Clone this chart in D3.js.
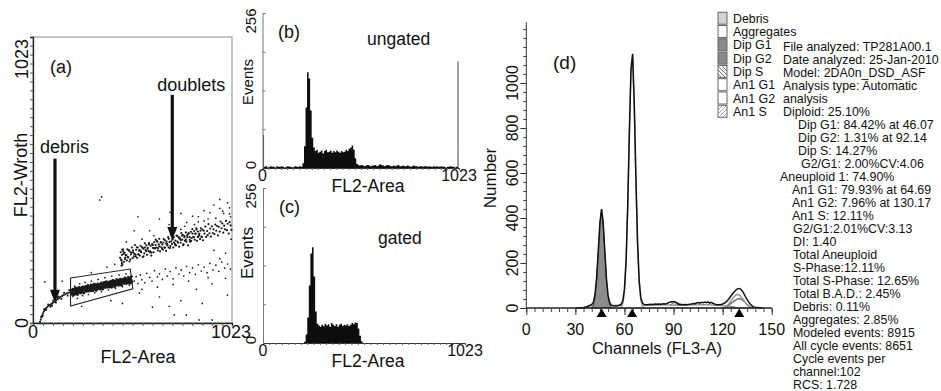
<!DOCTYPE html>
<html>
<head>
<meta charset="utf-8">
<script src="https://cdn.jsdelivr.net/npm/d3@7"></script>
<style>
  body { margin: 0; background: #fff; }
  svg text { font-family: "Liberation Sans", Arial, sans-serif; fill: #111; }
</style>
</head>
<body>
<svg id="fig" width="941" height="391"></svg>
<script>
// ---------- panel (a): FL2-Area vs FL2-Wroth dot plot (channel units 0-1023) ----------
const debrisTrail = [[36,4],[40,12],[44,20],[48,28],[52,35],[56,41],[60,46],[65,51],[70,55],[76,59],[82,62],[88,65],
  [94,68],[100,71],[107,74],[114,78],[121,82],[128,86],[135,89],[142,93],[150,97],[158,100],[166,103],[174,106],
  [182,108],[190,110],[42,22],[50,26],[58,50],[68,47],[78,66],[90,58],[104,80],[118,73],[132,95],[146,86],
  [160,108],[178,98],[186,118],[98,62],[126,92]];
const gatedCore = [[198,107],[200,117],[202,102],[204,113],[206,121],[208,105],[210,116],[212,101],[214,120],
  [216,112],[218,125],[220,106],[222,118],[224,110],[226,123],[228,102],[230,116],[232,121],[234,107],[236,118],
  [238,127],[240,111],[242,114],[244,124],[246,122],[248,107],[250,117],[252,126],[254,114],[256,129],[258,112],
  [260,122],[262,107],[264,125],[266,118],[268,129],[270,115],[272,122],[274,131],[276,113],[278,125],[280,121],
  [282,134],[284,116],[286,125],[288,114],[290,130],[292,120],[294,121],[296,131],[298,115],[300,127],[302,135],
  [304,119],[306,129],[308,115],[310,134],[312,125],[314,139],[316,120],[318,132],[320,123],[322,137],[324,116],
  [326,129],[328,135],[330,121],[332,132],[334,140],[336,125],[338,128],[340,137],[342,136],[344,121],[346,131],
  [348,139],[350,128],[352,143],[354,125],[356,136],[358,121],[360,139],[362,131],[364,143],[366,129],[368,135],
  [370,145],[372,127],[374,139],[376,134],[378,148],[380,130],[382,138],[384,128],[386,144],[388,134],[390,134],
  [392,145],[394,129],[396,140],[398,149],[400,133],[402,143],[404,128],[406,148],[408,139],[410,152],[412,134],
  [414,146],[416,137],[418,150],[420,130],[422,143],[424,148],[426,135],[428,146],[430,154],[432,138],[434,142],
  [436,151],[438,149],[440,135],[442,145],[444,153],[446,141],[448,157],[450,139],[452,149],[454,135],[456,153],
  [458,145],[460,156],[462,143],[464,149],[466,158],[468,141],[470,153],[472,148],[474,161],[476,144],[478,152],
  [480,141],[482,158],[484,148],[486,148],[488,158],[490,143],[492,154],[494,162],[496,147],[498,157],[500,142],
  [502,161],[504,153],[506,166],[508,147]];
const gateFringe = [[205,95],[214,132],[228,88],[240,140],[255,98],[268,145],[285,102],[300,150],[318,108],[335,156],
  [352,112],[370,162],[388,118],[405,168],[424,124],[442,172],[460,130],[478,176],[495,135],[232,128],[296,138],
  [364,146],[430,158],[488,166]];
const lowerTrail = [[520,150],[530,166],[540,141],[552,172],[560,155],[575,144],[585,178],[600,163],[612,150],
  [625,187],[640,165],[650,176],[665,156],[680,193],[690,168],[705,184],[720,158],[735,197],[750,175],[762,190],
  [775,168],[790,203],[805,180],[820,197],[835,174],[850,208],[865,186],[880,200],[895,180],[910,213],[925,190],
  [940,207],[955,185],[970,218],[985,196],[1000,211],[1015,193],[560,120],[640,128],[720,138],[800,150],[900,162]];
const doublets = [[448,233],[451,253],[456,223],[458,244],[462,263],[468,219],[471,251],[475,234],[477,243],
  [482,224],[485,263],[489,234],[493,259],[496,220],[501,254],[503,245],[508,270],[512,232],[515,253],[519,238],
  [524,279],[527,245],[530,262],[535,233],[538,270],[542,245],[545,258],[549,241],[553,276],[556,253],[561,270],
  [564,236],[567,266],[572,249],[575,285],[579,261],[583,278],[586,244],[590,269],[594,257],[597,286],[602,253],
  [605,276],[608,241],[613,282],[616,269],[620,253],[623,289],[628,267],[631,298],[634,270],[639,291],[642,260],
  [646,281],[649,301],[653,256],[657,288],[660,271],[665,281],[668,262],[672,300],[676,271],[679,296],[684,258],
  [687,291],[690,282],[695,307],[698,270],[702,290],[706,275],[709,316],[714,283],[717,299],[721,270],[724,307],
  [729,283],[732,295],[736,278],[740,313],[743,291],[748,308],[751,273],[755,304],[759,287],[762,322],[767,298],
  [770,315],[774,282],[778,307],[781,294],[786,324],[789,291],[793,314],[797,278],[800,319],[805,307],[808,291],
  [812,326],[816,304],[819,336],[824,308],[828,329],[831,298],[836,319],[840,339],[843,294],[848,327],[851,309],
  [855,319],[859,300],[863,339],[866,309],[871,334],[874,296],[878,330],[882,320],[886,345],[890,308],[895,329],
  [898,314],[902,354],[907,321],[911,338],[915,309],[919,346],[924,322],[928,335],[933,318],[937,352],[942,330],
  [946,347],[951,313],[955,344],[960,327],[964,363],[969,339],[973,356],[978,323],[983,348],[987,335],[992,365],
  [997,332],[1001,355],[1006,320],[1011,361],[1016,349],[1020,333],
  [466,247],[473,229],[480,243],[487,237],[494,260],[500,227],[507,251],[514,260],[521,247],[528,238],[534,271],
  [541,246],[548,262],[555,256],[562,271],[568,238],[575,270],[582,257],[589,266],[596,281],[602,256],[609,252],
  [616,279],[623,267],[630,279],[636,293],[643,268],[650,274],[657,289],[664,266],[670,288],[677,269],[684,284],
  [691,278],[698,301],[704,268],[711,292],[718,301],[725,288],[732,278],[738,312],[745,287],[752,302],[759,297],
  [766,312],[772,278],[779,311],[786,298],[793,307],[800,322],[806,297],[813,293],[820,320],[827,307],[834,320],
  [840,334],[847,308],[854,315],[861,330],[868,307],
  [455,205],[457,214],[453,226],[460,210],[464,256],[459,262]];
const strayDots = [[343,440],[353,451],[61,147],[788,29],[921,11],[854,11],[726,29],[547,107],[650,93],[614,57],
  [600,330],[650,372],[700,352],[760,392],[820,382],[880,402],[930,422],[980,392],[1010,412],[960,442],[900,372],
  [850,362],[780,346],[705,396],[622,312],[560,300],[520,330],[480,290],[700,60],[760,80],[840,120],[920,140],
  [990,160],[1015,380],[1018,300],[990,250],[960,230],[930,260],[420,210],[380,200],[300,180],[150,150],[250,60],
  [400,80],[460,70],[870,70],[1000,100],[110,140],[540,380],[720,340],[790,360],[850,380],[910,395],[960,410],
  [1000,430],[940,375],[880,365],[830,352],[760,335],[1010,390],[975,400]];
const gateVertices = [[193,161],[500,193],[513,122],[193,61]];
const scatterNotes = [
  { label: "debris",   textX: 36,  textY: 608, arrowX: 113, arrowFrom: 588, arrowTo: 72 },
  { label: "doublets", textX: 639, textY: 830, arrowX: 716, arrowFrom: 816, arrowTo: 297 }
];

// ---------- panels (b), (c): FL2-Area histograms, 128 bins of 8 channels ----------
const ungatedCounts = [55,
  2,3,1,2,3,2,2,1,3,2,2,3,2,1,2,3,2,2,1,2,3,2,2,3,2,
  8,36,100,158,148,95,50,34,
  28,30,25,27,29,24,28,30,26,27,29,25,28,26,29,27,25,28,26,27,30,28,32,34,37,30,
  16,7,5,
  4,5,4,3,4,5,4,3,4,4,5,3,4,6,5,4,3,4,5,4,3,3,4,3,4,5,3,3,4,3,3,4,3,2,3,4,3,3,2,3,
  3,2,3,3,2,3,2,2,3,2,3,2,2,3,2,2,1,2,2,3,2,2,1,2,
  176];
const gatedCounts = [0,0,0,0,0,0,0,0,0,0,0,0,0,0,0,0,0,0,0,0,0,0,0,0,0,0,
  2,14,42,95,148,158,110,52,
  32,29,27,30,28,32,29,31,27,33,30,28,31,27,30,32,28,30,29,31,28,30,33,31,34,33,
  24,12,3,
  0,0,0,0,0,0,0,0,0,0,0,0,0,0,0,0,0,0,0,0,0,0,0,0,0,0,0,0,0,0,0,0,0,0,0,0,0,0,0,0,
  0,0,0,0,0,0,0,0,0,0,0,0,0,0,0,0,0,0,0,0,0,0,0,0,0];

// ---------- panel (d): ModFit cell-cycle histogram (FL3-A channels) ----------
const totalStart = 30;
const totalCounts = [0,0,0,1,1,2,4,6,9,12,
  16,25,60,135,255,380,440,380,252,130,
  55,24,13,10,9,9,10,12,17,32,
  85,212,458,785,1065,1130,905,580,295,122,
  45,22,16,15,15,16,17,16,17,18,
  17,18,17,18,19,18,20,24,27,28,
  28,27,22,17,16,16,15,16,15,16,
  17,18,20,19,22,24,21,25,23,26,
  24,27,22,25,21,18,16,15,15,16,
  18,21,26,33,42,52,62,71,79,85,
  87,84,76,64,50,37,26,17,10,5,
  3,2,1,0,0,0];
const debrisStart = 33;
const debrisCounts = [1,2,3,5,7,9,11,10,8,6,4,2,1];
const dipG1Start = 40;
const dipG1Counts = [3,13,47,124,247,374,436,374,247,124,47,13,3,0];
const sPhaseStart = 48;
const sPhaseCounts = [3,6,8,10,11,12,12,13,13,12, 12,13,13,12,12,13,13,12,12,13,
  13,12,12,13,13,12,13,13,12,13, 13,14,13,13,14,13,14,14,13,14,
  14,14,13,14,14,13,13,14,13,13, 13,14,14,13,14,15,14,14,15,14,
  15,15,14,15,14,14,13,13,12,12, 12,11,11,10,10,9,8,7,6,5, 3,2,0];
const dipG2Start = 88;
const dipG2Counts = [0,5,9,11,11,9,5,0];
const an1G1Start = 57;
const an1G1Counts = [0,4,19,70,199,445,770,1050,1115,890,567,282,109,33,8,1,0];
const an1G2Start = 119;
const an1G2Counts = [0,1,3,7,13,21,31,41,50,57,61,58,52,43,33,23,14,8,4,2,1,0];
const aggStart = 120;
const aggCounts = [0,2,5,9,14,20,26,31,36,40,42,40,36,30,23,16,10,5,2,0];
const peakChannels = [46.07, 64.69, 130.17];

const legendLabels = ["Debris", "Aggregates", "Dip G1", "Dip G2", "Dip S", "An1 G1", "An1 G2", "An1 S"];
const legendKinds = ["debris", "white", "dark", "dark", "hatchB", "white", "white", "hatchF"];
const statsLines = ["File analyzed: TP281A00.1", "Date analyzed: 25-Jan-2010", "Model: 2DA0n_DSD_ASF",
  "Analysis type: Automatic", "analysis", "Diploid: 25.10%", "Dip G1: 84.42% at 46.07", "Dip G2: 1.31% at 92.14",
  "Dip S: 14.27%", "G2/G1: 2.00%CV:4.06", "Aneuploid 1: 74.90%", "An1 G1: 79.93% at 64.69",
  "An1 G2: 7.96% at 130.17", "An1 S: 12.11%", "G2/G1:2.01%CV:3.13", "DI: 1.40", "Total Aneuploid",
  "S-Phase:12.11%", "Total S-Phase: 12.65%", "Total B.A.D.: 2.45%", "Debris: 0.11%", "Aggregates: 2.85%",
  "Modeled events: 8915", "All cycle events: 8651", "Cycle events per", "channel:102", "RCS: 1.728"];

// ---------- drawing ----------
const svg = d3.select("#fig");

const defs = svg.append("defs");
function hatch(id, d, color) {
  const p = defs.append("pattern").attr("id", id).attr("patternUnits", "userSpaceOnUse")
    .attr("width", 4).attr("height", 4);
  p.append("rect").attr("width", 4).attr("height", 4).attr("fill", "#fff");
  p.append("path").attr("d", d).attr("stroke", color).attr("stroke-width", 1);
}
hatch("hatchB", "M-1,-1 L5,5 M-1,3 L1,5 M3,-1 L5,1", "#777");
hatch("hatchF", "M-1,5 L5,-1 M-1,1 L1,-1 M3,5 L5,3", "#aaa");

function rotText(g, x, y, txt, size, anchor) {
  g.append("text").attr("transform", `translate(${x},${y}) rotate(-90)`)
    .attr("text-anchor", anchor || "middle").attr("font-size", size).text(txt);
}

// ----- (a)
const gA = svg.append("g");
const ax = d3.scaleLinear().domain([0, 1023]).range([33, 232]);
const ay = d3.scaleLinear().domain([0, 1023]).range([323, 37]);

gA.append("rect").attr("x", 33).attr("y", 37).attr("width", 199).attr("height", 286)
  .attr("fill", "none").attr("stroke", "#8a8a8a").attr("stroke-width", 1);
gA.append("g").attr("transform", "translate(33,0)")
  .call(d3.axisLeft(ay).tickValues(d3.range(0, 1024, 32)).tickSize(3).tickFormat(""))
  .call(g => g.selectAll("line").attr("stroke", "#555"))
  .call(g => g.select(".domain").attr("stroke", "#222").attr("stroke-width", 1.3));
gA.append("g").attr("transform", "translate(0,323)")
  .call(d3.axisBottom(ax).tickValues(d3.range(0, 1024, 51.2)).tickSize(3).tickFormat(""))
  .call(g => g.selectAll("line").attr("stroke", "#555"))
  .call(g => g.select(".domain").attr("stroke", "#222").attr("stroke-width", 1.3));

const dotGroups = [[debrisTrail, 1.05], [gateFringe, 0.85], [lowerTrail, 0.85], [strayDots, 0.85],
  [doublets, 1.1], [gatedCore, 1.45]];
dotGroups.forEach(([pts, r]) => {
  gA.append("g").selectAll("circle").data(pts).join("circle")
    .attr("cx", d => ax(d[0])).attr("cy", d => ay(d[1])).attr("r", r).attr("fill", "#1a1a1a");
});
gA.append("path")
  .attr("d", d3.line().x(d => ax(d[0])).y(d => ay(d[1])).curve(d3.curveLinearClosed)(gateVertices))
  .attr("fill", "none").attr("stroke", "#222").attr("stroke-width", 1.1);

scatterNotes.forEach(n => {
  gA.append("text").attr("x", ax(n.textX)).attr("y", ay(n.textY)).attr("font-size", 18).text(n.label);
  const x = ax(n.arrowX), y0 = ay(n.arrowFrom), y1 = ay(n.arrowTo);
  gA.append("line").attr("x1", x).attr("x2", x).attr("y1", y0).attr("y2", y1 - 11)
    .attr("stroke", "#111").attr("stroke-width", 3.2);
  gA.append("path").attr("d", `M${x - 5},${y1 - 13} L${x + 5},${y1 - 13} L${x},${y1} Z`).attr("fill", "#111");
});
gA.append("text").attr("x", 50).attr("y", 73).attr("font-size", 18).text("(a)");
rotText(gA, 28, 39, "1023", 18, "end");
rotText(gA, 28, 323, "0", 18);
rotText(gA, 27, 175, "FL2-Wroth", 18);
gA.append("text").attr("x", 33).attr("y", 338).attr("text-anchor", "middle").attr("font-size", 18).text("0");
gA.append("text").attr("x", 231).attr("y", 338).attr("text-anchor", "middle").attr("font-size", 18).text("1023");
gA.append("text").attr("x", 138).attr("y", 363).attr("text-anchor", "middle").attr("font-size", 18).text("FL2-Area");

// ----- (b) and (c)
function histPanel(counts, xr, y0px, title, tag, tagPos, titlePos, yLab, yLabSize) {
  const g = svg.append("g");
  const x = d3.scaleLinear().domain([0, 1023]).range(xr);
  const y = d3.scaleLinear().domain([0, 256]).range([y0px, y0px - 155]);
  const area = d3.area().x((d, i) => x(i * 8 + 4)).y0(y(0)).y1(d => y(d)).curve(d3.curveStep);
  g.append("path").attr("d", area(counts)).attr("fill", "#0d0d0d");
  g.append("g").attr("transform", `translate(${xr[0]},0)`)
    .call(d3.axisRight(y).tickValues([64, 128, 192, 256]).tickSize(3).tickFormat(""))
    .call(s => s.selectAll("line").attr("stroke", "#777"))
    .call(s => s.select(".domain").attr("stroke", "#777"));
  g.append("g").attr("transform", `translate(0,${y0px})`)
    .call(d3.axisBottom(x).tickValues(d3.range(0, 1024, 32)).tickSize(2).tickFormat(""))
    .call(s => s.selectAll("line").attr("stroke", "#666"))
    .call(s => s.select(".domain").attr("stroke", "#333"));
  rotText(g, 256, y(256) + 8, "256", 15);
  rotText(g, 256, y0px - 3, "0", 15);
  rotText(g, 253, yLab, "Events", yLabSize);
  g.append("text").attr("x", xr[0]).attr("y", y0px + 13).attr("text-anchor", "middle").attr("font-size", 16).text("0");
  g.append("text").attr("x", xr[1]).attr("y", y0px + 13).attr("text-anchor", "middle").attr("font-size", 16).text("1023");
  g.append("text").attr("x", 368).attr("y", y0px + 24).attr("text-anchor", "middle").attr("font-size", 17.5).text("FL2-Area");
  g.append("text").attr("x", tagPos[0]).attr("y", tagPos[1]).attr("font-size", 18).text(tag);
  g.append("text").attr("x", titlePos[0]).attr("y", titlePos[1]).attr("font-size", 17.5).text(title);
}
histPanel(ungatedCounts, [262.5, 459], 168, "ungated", "(b)", [278, 38], [367, 45], 82, 15);
histPanel(gatedCounts, [263, 465], 343, "gated", "(c)", [279, 213], [378, 244], 253, 17);

// ----- (d)
const gD = svg.append("g");
const dx = d3.scaleLinear().domain([0, 150]).range([526.3, 771.7]);
const dy = d3.scaleLinear().domain([0, 1000]).range([308, 83]);

function seriesArea(start, counts) {
  return d3.area().x((d, i) => dx(start + i)).y0(dy(0)).y1(d => dy(d))(counts);
}
gD.append("path").attr("d", seriesArea(debrisStart, debrisCounts)).attr("fill", "#cfcfcf").attr("stroke", "#888");
gD.append("path").attr("d", seriesArea(sPhaseStart, sPhaseCounts)).attr("fill", "#fff")
  .attr("stroke", "#8a8a8a").attr("stroke-width", 1.2);
// Dip G2 sits on top of the S-phase component
gD.append("path").attr("d", d3.area()
    .x((d, i) => dx(dipG2Start + i))
    .y0((d, i) => dy(sPhaseCounts[dipG2Start + i - sPhaseStart]))
    .y1((d, i) => dy(d + sPhaseCounts[dipG2Start + i - sPhaseStart]))(dipG2Counts))
  .attr("fill", "#f2f2f2").attr("stroke", "#777");
gD.append("path").attr("d", seriesArea(dipG1Start, dipG1Counts)).attr("fill", "#8c8c8c")
  .attr("stroke", "#444").attr("stroke-width", 1);
gD.append("path").attr("d", seriesArea(an1G1Start, an1G1Counts)).attr("fill", "#fff")
  .attr("stroke", "#9a9a9a").attr("stroke-width", 1.4);
gD.append("path").attr("d", seriesArea(aggStart, aggCounts)).attr("fill", "none")
  .attr("stroke", "#555").attr("stroke-width", 1.2);
gD.append("path").attr("d", seriesArea(an1G2Start, an1G2Counts)).attr("fill", "none")
  .attr("stroke", "#999").attr("stroke-width", 1.6);
gD.append("path")
  .attr("d", d3.line().x((d, i) => dx(totalStart + i)).y(d => dy(d))(totalCounts))
  .attr("fill", "none").attr("stroke", "#111").attr("stroke-width", 1.5);

gD.append("g").attr("transform", "translate(526.3,0)")
  .call(d3.axisLeft(dy).tickValues(d3.range(0, 1271, 40)).tickSize(3).tickFormat(""))
  .call(s => s.select(".domain").attr("d", `M0,${dy(0)}V${dy(1270)}`).attr("stroke", "#333"))
  .call(s => s.selectAll("line").attr("stroke", "#444"));
gD.append("g").attr("transform", "translate(526.3,0)")
  .call(d3.axisLeft(dy).tickValues(d3.range(0, 1001, 200)).tickSize(6).tickFormat(""))
  .call(s => s.select(".domain").remove()).call(s => s.selectAll("line").attr("stroke", "#333"));
gD.append("g").attr("transform", "translate(0,308)")
  .call(d3.axisBottom(dx).tickValues(d3.range(0, 151, 5)).tickSize(4).tickFormat(""))
  .call(s => s.select(".domain").attr("d", `M${dx(0)},0H${dx(150)}`).attr("stroke", "#222").attr("stroke-width", 1.3))
  .call(s => s.selectAll("line").attr("stroke", "#444"));
gD.append("g").attr("transform", "translate(0,308)")
  .call(d3.axisBottom(dx).tickValues(d3.range(0, 151, 30)).tickSize(7).tickFormat(""))
  .call(s => s.select(".domain").remove()).call(s => s.selectAll("line").attr("stroke", "#333"));

gD.selectAll(".peak").data(peakChannels).join("path").attr("class", "peak")
  .attr("d", d => `M${dx(d)},308.5 L${dx(d) + 5},317 L${dx(d) - 5},317 Z`).attr("fill", "#000");

d3.range(0, 1001, 200).forEach(v => rotText(gD, 518, dy(v), String(v), 16));
d3.range(0, 151, 30).forEach(v => gD.append("text").attr("x", dx(v)).attr("y", 335)
  .attr("text-anchor", "middle").attr("font-size", 16).text(v));
rotText(gD, 496, 178, "Number", 17);
gD.append("text").attr("x", 657).attr("y", 354).attr("text-anchor", "middle").attr("font-size", 16.5)
  .text("Channels (FL3-A)");
gD.append("text").attr("x", 553).attr("y", 69).attr("font-size", 19).text("(d)");

// legend
const kindFill = { debris: "#d2d2d2", white: "#fff", dark: "#8a8a8a", hatchB: "url(#hatchB)", hatchF: "url(#hatchF)" };
legendLabels.forEach((lab, i) => {
  const top = 11.7 + 13.3 * i;
  gD.append("rect").attr("x", 718).attr("y", top + 0.5).attr("width", 9).attr("height", 12)
    .attr("fill", kindFill[legendKinds[i]]).attr("stroke", "#666").attr("stroke-width", 1);
  gD.append("text").attr("x", 733).attr("y", top + 11).attr("font-size", 12.4).text(lab);
});

// statistics block
const statIndent = [783, 783, 783, 783, 783, 783, 798, 798, 798, 801, 780, 792, 792, 792];
statsLines.forEach((t, i) => {
  gD.append("text").attr("x", i < statIndent.length ? statIndent[i] : 793).attr("y", 50.5 + 13 * i)
    .attr("font-size", 12.4).text(t);
});
</script>
</body>
</html>
